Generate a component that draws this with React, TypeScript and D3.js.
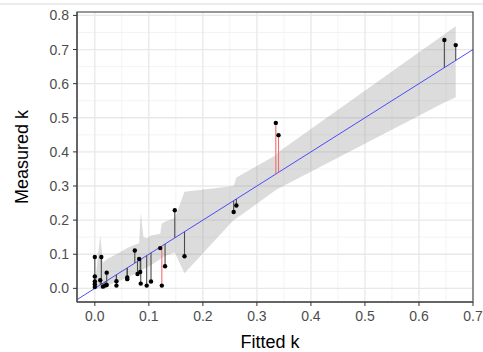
import React from 'react';
import * as d3 from 'd3';

// fitted vs measured k, one entry per sample
const fittedK = [
  0.0, 0.0, 0.0, 0.0, 0.0, 0.012, 0.01, 0.015, 0.019, 0.022, 0.022,
  0.04, 0.04, 0.06, 0.06, 0.074, 0.082, 0.079, 0.084, 0.085,
  0.096, 0.104, 0.121, 0.124, 0.13, 0.148, 0.166,
  0.257, 0.262, 0.335, 0.34, 0.647, 0.668,
];
const measuredK = [
  0.092, 0.035, 0.02, 0.012, 0.004, 0.092, 0.024, 0.005, 0.008, 0.046, 0.01,
  0.021, 0.008, 0.032, 0.027, 0.111, 0.086, 0.042, 0.048, 0.014,
  0.008, 0.02, 0.118, 0.008, 0.065, 0.229, 0.094,
  0.224, 0.243, 0.485, 0.449, 0.728, 0.713,
];

// confidence band, evaluated at the sorted fitted values
const bandX = [
  0.0, 0.01, 0.015, 0.022, 0.04, 0.06, 0.074, 0.082, 0.085, 0.09, 0.097,
  0.104, 0.121, 0.124, 0.13, 0.148, 0.166, 0.257, 0.262, 0.335, 0.34, 0.647, 0.668,
];
const bandLow = [
  0.0, 0.0, 0.002, 0.008, 0.018, 0.032, 0.042, 0.05, 0.052, 0.056, 0.062,
  0.068, 0.085, 0.09, 0.095, 0.105, 0.044, 0.2, 0.205, 0.288, 0.293, 0.545, 0.56,
];
const bandHigh = [
  0.01, 0.156, 0.075, 0.085, 0.1, 0.118, 0.128, 0.132, 0.222, 0.15, 0.147,
  0.155, 0.16, 0.19, 0.195, 0.206, 0.283, 0.3, 0.325, 0.39, 0.4, 0.745, 0.768,
];

const xTicks = [0, 0.1, 0.2, 0.3, 0.4, 0.5, 0.6, 0.7];
const yTicks = [0, 0.1, 0.2, 0.3, 0.4, 0.5, 0.6, 0.7, 0.8];
const xMinor = [0.05, 0.15, 0.25, 0.35, 0.45, 0.55, 0.65];
const yMinor = [0.05, 0.15, 0.25, 0.35, 0.45, 0.55, 0.65, 0.75];

const W = 483;
const H = 352;
const margin = { top: 12, right: 10, bottom: 50, left: 77 };

const App = () => {
  const x = d3.scaleLinear().domain([-0.033, 0.7]).range([margin.left, W - margin.right]);
  const y = d3.scaleLinear().domain([-0.04, 0.81]).range([H - margin.bottom, margin.top]);

  const band = d3.area<number>()
    .x((d, i) => x(bandX[i]))
    .y0((d, i) => y(bandLow[i]))
    .y1((d, i) => y(bandHigh[i]));

  const x0 = margin.left, x1 = W - margin.right;
  const y0 = H - margin.bottom, y1 = margin.top;
  const tickFont = { fontFamily: 'Liberation Sans, Arial, sans-serif', fontSize: 14, fill: '#4d4d4d' };

  return (
    <div style={{ position: 'absolute', left: 0, top: 0 }}>
      <svg width={W} height={H} style={{ display: 'block' }}>
        <rect x={0} y={0} width={W} height={H} fill="white" />
        <line x1={0} x2={W} y1={4} y2={4} stroke="#ececec" strokeWidth={2} />
        <defs>
          <clipPath id="panel">
            <rect x={x0} y={y1} width={x1 - x0} height={y0 - y1} />
          </clipPath>
        </defs>

        {/* grid */}
        {xMinor.map(t => (
          <line key={'xm' + t} x1={x(t)} x2={x(t)} y1={y1} y2={y0} stroke="#f3f3f3" strokeWidth={1} />
        ))}
        {yMinor.map(t => (
          <line key={'ym' + t} x1={x0} x2={x1} y1={y(t)} y2={y(t)} stroke="#f3f3f3" strokeWidth={1} />
        ))}
        {xTicks.map(t => (
          <line key={'xg' + t} x1={x(t)} x2={x(t)} y1={y1} y2={y0} stroke="#e8e8e8" strokeWidth={1.3} />
        ))}
        {yTicks.map(t => (
          <line key={'yg' + t} x1={x0} x2={x1} y1={y(t)} y2={y(t)} stroke="#e8e8e8" strokeWidth={1.3} />
        ))}

        <g clipPath="url(#panel)">
          <path d={band(bandX) || ''} fill="#8c8c8c" fillOpacity={0.3} />
          <line x1={x(-0.033)} y1={y(-0.033)} x2={x(0.7)} y2={y(0.7)} stroke="#3a3aff" strokeWidth={0.9} />
          {fittedK.map((f, i) => {
            const red = Math.abs(measuredK[i] - f) > 0.1;
            return (
              <line key={'s' + i} x1={x(f)} x2={x(f)} y1={y(measuredK[i])} y2={y(f)}
                stroke={red ? '#f07070' : '#4a4a4a'} strokeWidth={1.1} />
            );
          })}
          {fittedK.map((f, i) => (
            <circle key={'p' + i} cx={x(f)} cy={y(measuredK[i])} r={2.2} fill="black" />
          ))}
        </g>

        {/* panel border */}
        <rect x={x0} y={y1} width={x1 - x0} height={y0 - y1} fill="none" stroke="#333" strokeWidth={1} />
        <line x1={x0} x2={x0} y1={y1} y2={y0} stroke="#555" strokeWidth={1.5} />
        <line x1={x0} x2={x1} y1={y0} y2={y0} stroke="#555" strokeWidth={1.5} />

        {/* axes */}
        {xTicks.map(t => (
          <g key={'xt' + t}>
            <line x1={x(t)} x2={x(t)} y1={y0} y2={y0 + 4} stroke="#333" strokeWidth={1} />
            <text x={x(t)} y={y0 + 19} textAnchor="middle" {...tickFont}>{t.toFixed(1)}</text>
          </g>
        ))}
        {yTicks.map(t => (
          <g key={'yt' + t}>
            <line x1={x0 - 4} x2={x0} y1={y(t)} y2={y(t)} stroke="#333" strokeWidth={1} />
            <text x={x0 - 8} y={y(t) + 5} textAnchor="end" {...tickFont}>{t.toFixed(1)}</text>
          </g>
        ))}

        <text x={270} y={348} textAnchor="middle" fontFamily="Liberation Sans, Arial, sans-serif" fontSize={18} fill="black">Fitted k</text>
        <text transform={`translate(28,${(y0 + y1) / 2}) rotate(-90)`} textAnchor="middle"
          fontFamily="Liberation Sans, Arial, sans-serif" fontSize={18} fill="black">Measured k</text>
      </svg>
    </div>
  );
};

export default App;
